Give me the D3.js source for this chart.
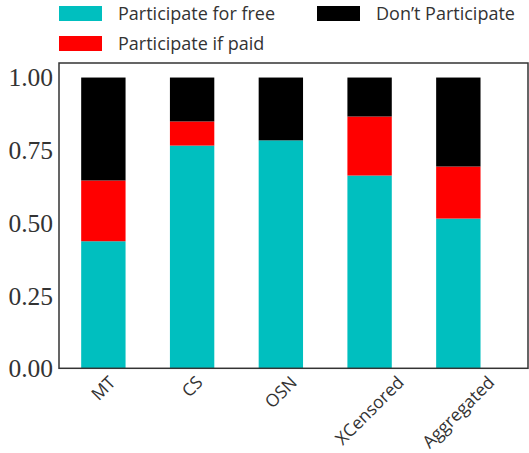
<!DOCTYPE html>
<html>
<head>
<meta charset="UTF-8">
<script src="https://cdn.jsdelivr.net/npm/d3@7"></script>
<style>
  body { margin: 0; background: #fff; }
  .ytick text { font-family: "Liberation Serif", serif; font-size: 25.5px; fill: #333; }
  .xlab { font-family: "Open Sans", sans-serif; font-size: 17.5px; fill: #333; }
  .leg text { font-family: "Open Sans", sans-serif; font-size: 18px; fill: #333; }
</style>
</head>
<body>
<svg width="529" height="453"></svg>
<script>
// data
var categories = ["MT", "CS", "OSN", "XCensored", "Aggregated"];
var forFree = [0.437, 0.766, 0.784, 0.663, 0.515];
var ifPaid = [0.209, 0.083, 0.0, 0.203, 0.179];
var dontPart = [0.354, 0.151, 0.216, 0.134, 0.306];
var seriesNames = ["Participate for free", "Participate if paid", "Don\u2019t Participate"];
var colors = ["#00bfbf", "#ff0000", "#000000"];
var yTicks = [0, 0.25, 0.5, 0.75, 1.0];

var svg = d3.select("svg");
var mLeft = 59, mRight = 528, mTop = 63, mBottom = 368.3;

var x = d3.scaleLinear().domain([-0.5, 4.785]).range([mLeft, mRight]);
var y = d3.scaleLinear().domain([0, 1.05]).range([mBottom, mTop]);
var barW = x(0.5) - x(0);

var rows = categories.map(function(c, i) {
  return { cat: c, i: i, free: forFree[i], paid: ifPaid[i], dont: dontPart[i] };
});
var stack = d3.stack().keys(["free", "paid", "dont"])(rows);

svg.append("g").selectAll("g")
  .data(stack).enter().append("g")
  .attr("fill", function(d, k) { return colors[k]; })
  .selectAll("rect")
  .data(function(d) { return d; }).enter().append("rect")
  .attr("x", function(d) { return x(d.data.i) - barW / 2; })
  .attr("width", barW)
  .attr("y", function(d) { return y(d[1]); })
  .attr("height", function(d) { return y(d[0]) - y(d[1]); });

// frame
svg.append("rect")
  .attr("x", mLeft).attr("y", mTop)
  .attr("width", mRight - mLeft).attr("height", mBottom - mTop)
  .attr("fill", "none").attr("stroke", "#333").attr("stroke-width", 1.5);

// y axis
var yAxis = svg.append("g").attr("class", "ytick")
  .attr("transform", "translate(" + mLeft + ",0)")
  .call(d3.axisLeft(y).tickValues(yTicks).tickSize(0).tickPadding(6).tickFormat(d3.format(".2f")));
yAxis.select(".domain").remove();
yAxis.selectAll("text").attr("dy", "0.33em");

// x labels: rotated 45deg, box centred under the bar, top just below the axis
var labTop = 375, labH = 12;
svg.append("g").selectAll("text")
  .data(categories).enter().append("text")
  .attr("class", "xlab")
  .attr("text-anchor", "middle")
  .attr("dy", "0.35em")
  .text(function(d) { return d; })
  .attr("transform", function(d, i) {
    var w = this.getComputedTextLength();
    var cy = labTop + (w + labH) * Math.SQRT1_2 / 2;
    return "translate(" + x(i) + "," + cy + ") rotate(-45)";
  });

// legend
var legPos = [[59, 6], [59, 36], [317, 6]];
var leg = svg.append("g").attr("class", "leg");
seriesNames.forEach(function(name, k) {
  var g = leg.append("g").attr("transform", "translate(" + legPos[k][0] + "," + legPos[k][1] + ")");
  g.append("rect").attr("width", 43).attr("height", 15).attr("fill", colors[k]);
  g.append("text").attr("x", 59).attr("y", 8).attr("dy", "0.35em").text(name);
});
</script>
</body>
</html>
